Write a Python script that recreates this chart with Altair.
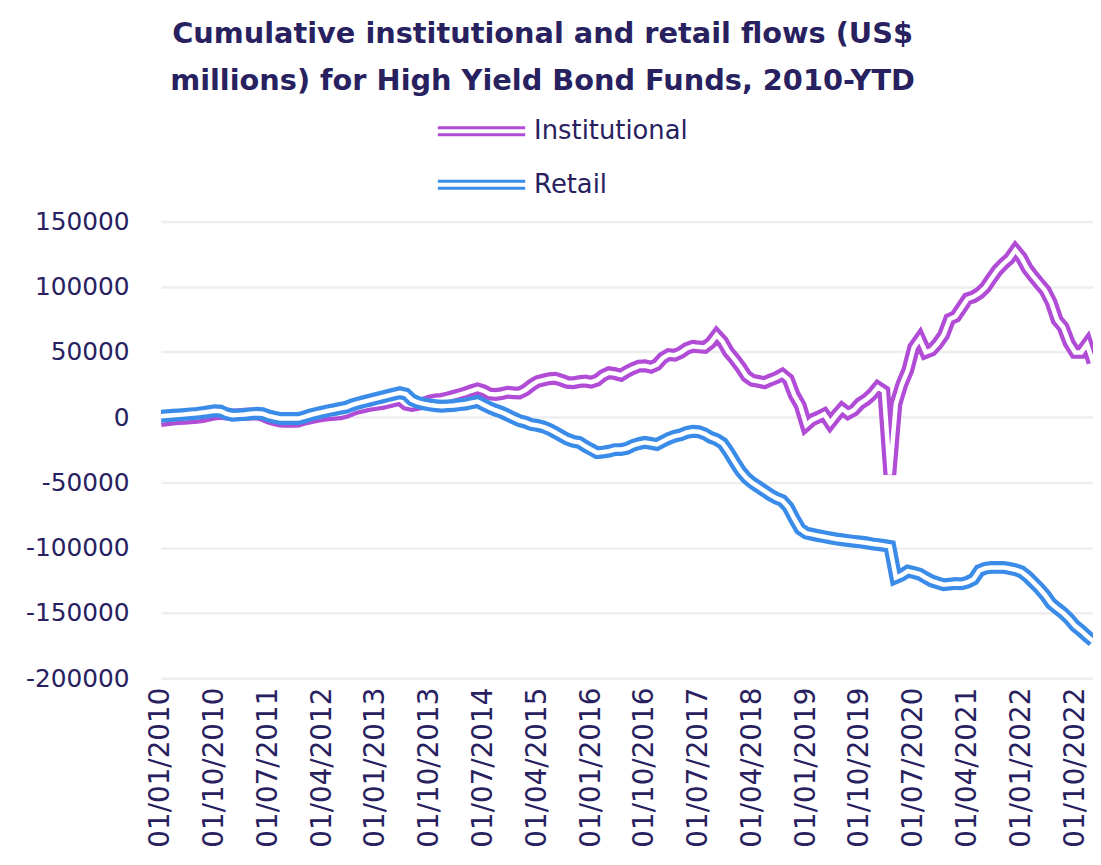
import altair as alt
import pandas as pd

# ---- data (US$ millions, cumulative), monthly Jan 2010 .. Jan 2023 ----
months = [f"01/{m:02d}/{y}" for y in range(2010, 2023) for m in range(1, 13)] + ["01/01/2023"]

institutional_k = [
    -2.5, -2.0, -1.5, -1.0, -0.8, -0.5, 0.0, 0.5, 1.5, 2.5, 3.0, 2.5,
    1.8, 2.0, 2.3, 2.5, 2.5, 1.5, -0.5, -2.0, -3.0, -3.2, -3.2, -3.0,
    -1.5, -0.5, 0.5, 1.2, 1.8, 2.2, 2.6, 3.8, 5.6, 7.1, 8.1, 9.2,
    9.8, 10.4, 11.5, 12.6, 13.8, 10.0, 9.1, 9.8, 10.9, 12.4, 13.2, 13.7,
    14.8, 16.0, 17.3, 18.7, 20.3, 21.7, 20.3, 17.8, 17.5, 18.0, 19.2, 18.7,
    18.6, 20.8, 24.4, 27.3, 28.5, 29.5, 29.8, 28.4, 26.7, 26.4, 27.3, 27.7,
    26.9, 28.4, 32.0, 34.1, 33.4, 32.2, 35.0, 37.3, 39.2, 39.4, 38.3, 40.3,
    45.4, 48.0, 47.6, 49.5, 52.7, 54.3, 53.9, 53.5, 57.0, 63.0, 58.0, 50.0,
    44.6, 38.5, 31.5, 28.3, 27.5, 26.5, 28.5, 30.3, 32.8, 29.0, 17.0, 9.0,
    -6.0, -2.0, 0.0, 2.3, -4.5, 1.3, 6.5, 3.0, 5.5, 10.5, 13.4, 17.5,
    23.0, 20.0, -44.0, 10.0, 25.0, 36.0, 53.5, 60.0, 49.7, 51.5, 56.5, 63.0,
    75.1, 77.2, 84.0, 90.8, 92.3, 95.2, 99.6, 106.4, 112.7, 117.5, 121.5, 128.0,
    122.5, 114.0, 108.0, 102.5, 97.0, 88.0, 74.5, 69.0, 57.0, 49.7, 49.7, 56.0,
    42.0,
]

retail_k = [
    0.8, 1.1, 1.5, 1.8, 2.2, 2.6, 3.0, 3.6, 4.2, 4.9, 4.6, 2.6,
    1.6, 1.8, 2.1, 2.6, 3.0, 2.7, 1.1, 0.0, -1.0, -1.0, -1.0, -1.0,
    0.2, 1.7, 2.9, 3.9, 5.0, 5.8, 6.8, 7.6, 9.4, 10.8, 12.0, 13.1,
    14.3, 15.4, 16.6, 17.7, 18.8, 17.7, 13.4, 11.3, 10.2, 9.4, 8.8, 8.4,
    8.7, 9.0, 9.6, 10.1, 11.1, 12.0, 9.6, 7.3, 5.4, 3.8, 1.7, -0.6,
    -2.6, -3.8, -5.6, -6.3, -7.4, -9.3, -11.7, -14.3, -16.8, -18.5, -19.3, -22.2,
    -24.7, -27.2, -26.7, -26.0, -24.8, -24.8, -23.8, -21.6, -20.2, -19.3, -20.0, -20.9,
    -18.5, -16.2, -14.5, -13.5, -11.7, -10.8, -11.1, -12.7, -15.4, -17.1, -20.0, -26.5,
    -34.0, -41.2, -46.5, -50.3, -53.4, -56.5, -59.5, -62.0, -63.9, -69.0, -77.8, -85.6,
    -88.8, -89.8, -90.7, -91.6, -92.5, -93.3, -93.9, -94.5, -95.1, -95.6, -96.2, -97.0,
    -97.6, -98.2, -99.0, -123.0, -121.0, -118.0, -119.0, -120.3, -123.0, -125.5, -127.0, -128.3,
    -127.9, -127.4, -127.7, -126.4, -124.2, -117.5, -115.7, -115.1, -115.1, -115.1, -115.9, -116.9,
    -118.5, -122.0, -126.5, -131.1, -136.4, -142.8, -146.6, -150.1, -154.5, -159.9, -163.6, -167.8,
    -171.6,
]

series_names = ["Institutional", "Retail"]
series_colors = ["#b04cd6", "#3b8ce9"]
tick_labels = ["01/01/2010", "01/10/2010", "01/07/2011", "01/04/2012", "01/01/2013",
               "01/10/2013", "01/07/2014", "01/04/2015", "01/01/2016", "01/10/2016",
               "01/07/2017", "01/04/2018", "01/01/2019", "01/10/2019", "01/07/2020",
               "01/04/2021", "01/01/2022", "01/10/2022"]
y_ticks = [-200000, -150000, -100000, -50000, 0, 50000, 100000, 150000]
title_lines = ["Cumulative institutional and retail flows (US$",
               "millions) for High Yield Bond Funds, 2010-YTD"]

NAVY = "#28215f"
FONT = "DejaVu Sans"

df = pd.DataFrame({
    "month": months * 2,
    "series": [series_names[0]] * len(months) + [series_names[1]] * len(months),
    "value": [v * 1000 for v in institutional_k] + [v * 1000 for v in retail_k],
})

x_enc = alt.X(
    "month:O", sort=None,
    scale=alt.Scale(type="point", padding=0),
    axis=alt.Axis(values=tick_labels, labelAngle=270, grid=False, ticks=False,
                  tickSize=0, domain=False, labelFontSize=28, labelColor=NAVY,
                  labelFont=FONT, labelPadding=9, title=None),
)
y_enc = alt.Y(
    "value:Q",
    scale=alt.Scale(domain=[-200000, 150000], nice=False),
    axis=alt.Axis(values=y_ticks, labelExpr="'' + datum.value", grid=True,
                  gridColor="#eeeeee", gridWidth=2.5, ticks=False, tickSize=0,
                  domain=False, labelFontSize=25, labelColor=NAVY, labelFont=FONT,
                  labelPadding=32, title=None),
)

color_enc = alt.Color(
    "series:N",
    scale=alt.Scale(domain=series_names, range=series_colors),
    legend=alt.Legend(
        orient="none", legendX=277, legendY=-104, direction="vertical", title=None,
        symbolType="M-1,-0.32L7,-0.32M-1,0.32L7,0.32", symbolSize=484,
        symbolStrokeWidth=3, labelFontSize=26, labelColor=NAVY, labelFont=FONT,
        rowPadding=28, labelOffset=73,
    ),
)

base = alt.Chart(df).encode(x=x_enc, y=y_enc)

layers = []
for name in series_names:
    sub = base.transform_filter(alt.datum.series == name)
    layers.append(sub.mark_line(strokeWidth=13, clip=True).encode(color=color_enc))
    layers.append(sub.mark_line(strokeWidth=4.5, color="white", clip=True))

chart = alt.layer(*layers).properties(
    width=939, height=460,
    title=alt.TitleParams(text=title_lines, fontSize=29, fontWeight="bold", color=NAVY,
                          font=FONT, anchor="middle", lineHeight=48, offset=22, dx=-85),
    padding={"left": 17, "top": 9, "right": 0, "bottom": 0},
).configure_view(stroke=None)

chart.save("out.html", embed_options={"renderer": "svg", "actions": False})
